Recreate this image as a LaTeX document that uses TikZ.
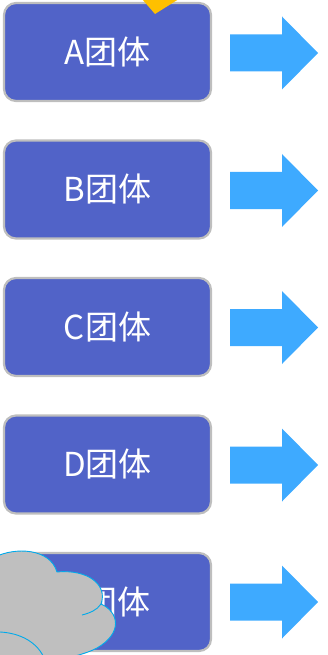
\documentclass[tikz,border=0pt]{standalone}
\usepackage{fontspec}
\newfontfamily\cjk{Noto Sans CJK SC}
\definecolor{boxfill}{RGB}{81,99,200}
\definecolor{boxline}{RGB}{190,190,190}
\definecolor{arrowc}{RGB}{62,170,255}
\definecolor{yel}{RGB}{255,192,0}
\definecolor{cloudfill}{RGB}{191,191,191}
\definecolor{cloudline}{RGB}{0,170,235}
\tikzset{
  grp/.style={draw=boxline, line width=2.2pt, fill=boxfill, rounded corners=12pt,
    minimum width=207pt, minimum height=98pt, inner sep=0pt, text=white,
    font=\cjk\fontsize{33}{33}\selectfont},
  bigarrow/.style={fill=arrowc},
}
\begin{document}
\begin{tikzpicture}[x=1pt,y=-1pt]
\useasboundingbox (0,0) rectangle (327,655);
\clip (0,0) rectangle (327,655);
\node[grp] (a) at (107.5,52) {A团体};
\node[grp] (b) at (107.5,189.5) {B团体};
\node[grp] (c) at (107.5,327) {C团体};
\node[grp] (d) at (107.5,464.5) {D团体};
\node[grp] (e) at (107.5,602) {E团体};
\foreach \c in {53,190.5,327.5,465,602}{
  \fill[bigarrow] (230,\c-18.5) -- (282,\c-18.5) -- (282,\c-36.5) -- (318,\c)
    -- (282,\c+36.5) -- (282,\c+18.5) -- (230,\c+18.5) -- cycle;
}
% yellow shape at top
\fill[yel] (136,-8) -- (155,14) -- (190,-8) -- cycle;
% cloud
\filldraw[fill=cloudfill, draw=cloudline, line width=0.9pt]
  (-5,557) .. controls (15,547) and (50,548) .. (57,572)
  .. controls (88,569) and (108,585) .. (101,604)
  .. controls (119,612) and (123,633) .. (97,648)
  .. controls (80,657) and (55,660) .. (40,662)
  -- (-5,662) -- cycle;
\draw[cloudline, line width=0.9pt] (101,604) .. controls (97,610) and (90,613) .. (82,615);
\draw[cloudline, line width=0.9pt] (0,632) .. controls (20,633) and (38,642) .. (45,660);
\end{tikzpicture}
\end{document}
